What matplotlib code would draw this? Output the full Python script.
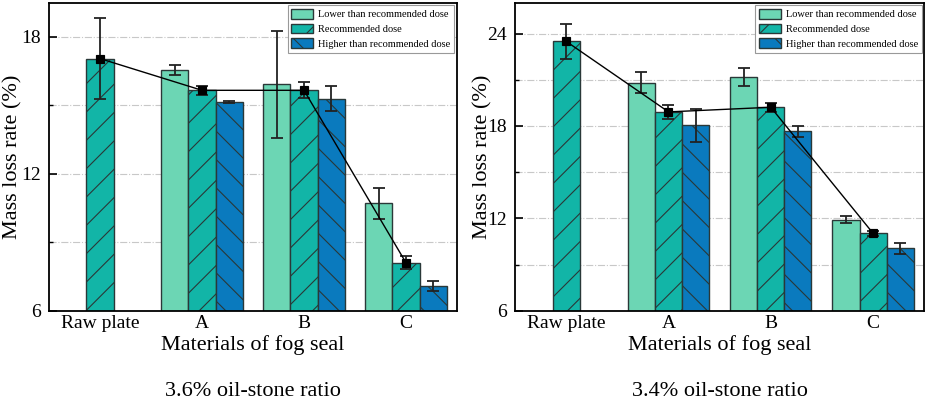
import matplotlib
matplotlib.use("Agg")
import matplotlib.pyplot as plt
import numpy as np

# render at a lower dpi (with point sizes scaled up) so the hatch spacing matches
DPI = 85
S = 100 / DPI

plt.rcParams['font.family'] = ['Liberation Serif', 'DejaVu Serif']
plt.rcParams['hatch.linewidth'] = 0.8 * S

categories = ["Raw plate", "A", "B", "C"]
series_names = ["Lower than recommended dose", "Recommended dose", "Higher than recommended dose"]

# 3.6% oil-stone ratio
left_raw = 17.05
left_raw_err = 1.78
left_lower = [16.54, 15.93, 10.70]
left_lower_err = [0.22, 2.34, 0.70]
left_rec = [15.66, 15.66, 8.10]
left_rec_err = [0.20, 0.35, 0.29]
left_higher = [15.15, 15.30, 7.07]
left_higher_err = [0.06, 0.55, 0.21]

# 3.4% oil-stone ratio
right_raw = 23.49
right_raw_err = 1.15
right_lower = [20.81, 21.18, 11.92]
right_lower_err = [0.66, 0.57, 0.22]
right_rec = [18.91, 19.21, 11.02]
right_rec_err = [0.43, 0.28, 0.16]
right_higher = [18.04, 17.65, 10.04]
right_higher_err = [1.06, 0.35, 0.38]

captions = ["3.6% oil-stone ratio", "3.4% oil-stone ratio"]
ylims = [(6, 19.5), (6, 26)]

c_lower = '#6CD6B4'
c_rec = '#12B5A7'
c_high = '#0A7ABE'
edge = '#2a3838'

fig = plt.figure(figsize=(927 / DPI, 402 / DPI), dpi=DPI)
ax1 = fig.add_axes([49/927, 1-310.7/402, 408/927, 308/402])
ax2 = fig.add_axes([515/927, 1-310.7/402, 409.3/927, 308/402])

panels = [
    (ax1, left_raw, left_raw_err, left_lower, left_lower_err, left_rec, left_rec_err, left_higher, left_higher_err, -0.065),
    (ax2, right_raw, right_raw_err, right_lower, right_lower_err, right_rec, right_rec_err, right_higher, right_higher_err, -0.054),
]

w = 0.265
err_kw = dict(ecolor='#222222', elinewidth=1.3 * S, capsize=4 * S, capthick=1.3 * S)

for i, (ax, raw, raw_e, lo, lo_e, rec, rec_e, hi, hi_e, ylx) in enumerate(panels):
    x = np.arange(1, 5)
    xg = x[1:]
    ax.bar(xg - w, lo, w, yerr=lo_e, color=c_lower, edgecolor=edge, linewidth=1.0 * S,
           error_kw=err_kw, label=series_names[0], zorder=2)
    rec_all = [raw] + rec
    rec_err_all = [raw_e] + rec_e
    ax.bar(x, rec_all, w, yerr=rec_err_all, color=c_rec, edgecolor=edge, linewidth=1.0 * S,
           hatch='/', error_kw=err_kw, label=series_names[1], zorder=2)
    ax.bar(xg + w, hi, w, yerr=hi_e, color=c_high, edgecolor=edge, linewidth=1.0 * S,
           hatch='\\', error_kw=err_kw, label=series_names[2], zorder=2)
    ax.plot(x, rec_all, color='black', linewidth=1.0 * S, marker='s', markersize=6 * S, zorder=4)

    ax.set_xlim(0.5, 4.5)
    ax.set_ylim(*ylims[i])
    ax.set_yticks(np.arange(6, ylims[i][1] + 0.1, 6))
    ax.set_yticks(np.arange(9, ylims[i][1] + 0.1, 6), minor=True)
    ax.set_xticks(x)
    ax.set_xticklabels(categories)
    ax.tick_params(axis='both', which='major', direction='in', labelsize=14 * S, width=1.2 * S)
    ax.tick_params(axis='y', which='major', length=6 * S, pad=6 * S)
    ax.tick_params(axis='y', which='minor', direction='in', length=3 * S, width=1.0 * S)
    ax.tick_params(axis='x', which='major', length=5 * S, pad=3 * S)
    ax.tick_params(top=False, right=False)
    ax.grid(axis='y', which='both', color='#c8c8c8', linestyle='-.', linewidth=0.8 * S, zorder=0)
    ax.set_axisbelow(True)
    for s in ax.spines.values():
        s.set_linewidth(1.3 * S)
    ax.set_ylabel("Mass loss rate (%)", fontsize=16 * S)
    ax.yaxis.set_label_coords(ylx, 0.5)
    ax.set_xlabel("Materials of fog seal", fontsize=16 * S, labelpad=2 * S)

    leg = ax.legend(loc='upper right', fontsize=7.5 * S, frameon=True, fancybox=False,
                    edgecolor='#999999', framealpha=1, borderaxespad=0.25,
                    handlelength=2.1, handleheight=1.05, labelspacing=0.42,
                    handletextpad=0.5, borderpad=0.35)
    leg.get_frame().set_linewidth(0.8 * S)

    pos = ax.get_position()
    fig.text((pos.x0 + pos.x1) / 2, 10/402, captions[i], ha='center', va='center', fontsize=16 * S)

fig.savefig("out.png", dpi=DPI)
